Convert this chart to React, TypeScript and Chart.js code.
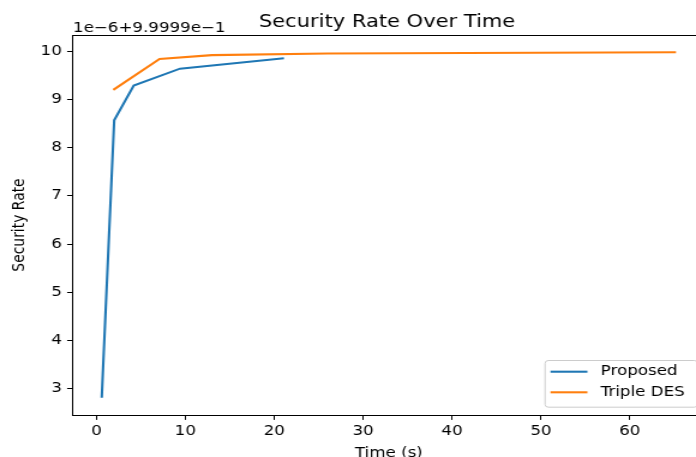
import React, { useEffect, useRef } from 'react';
import { Chart, registerables } from 'chart.js';

Chart.register(...registerables);

const TITLE = 'Security Rate Over Time';
const X_LABEL = 'Time (s)';
const Y_LABEL = 'Security Rate';
const OFFSET_TEXT = '1e\u22126+9.9999e\u22121';
const Y_OFFSET = 0.99999;
const Y_UNIT = 1e-6;

const proposedLabel = 'Proposed';
const proposedTime = [0.6, 2.0, 4.2, 9.4, 21.1];
const proposedRate = [0.99999281, 0.99999857, 0.99999929, 0.99999964, 0.999999855];

const tripleDesLabel = 'Triple DES';
const tripleDesTime = [1.9, 7.1, 13.0, 26.0, 65.2];
const tripleDesRate = [0.9999992, 0.99999984, 0.99999992, 0.999999955, 0.99999998];

const xTicks = [0, 10, 20, 30, 40, 50, 60];
const yTickUnits = [3, 4, 5, 6, 7, 8, 9, 10];

const BLUE = '#1f77b4';
const ORANGE = '#ff7f0e';
const FONT = '"DejaVu Sans", sans-serif';
const FS = 13.9;

const STRETCH = 1.2;

const decorPlugin = {
  id: 'decor',
  afterDraw(chart: any) {
    const { ctx, chartArea: ca } = chart;
    ctx.save();
    // top & right spines
    ctx.strokeStyle = '#000';
    ctx.lineWidth = 1;
    ctx.beginPath();
    ctx.moveTo(ca.left, Math.round(ca.top) + 0.5);
    ctx.lineTo(ca.right, Math.round(ca.top) + 0.5);
    ctx.lineTo(ca.right, ca.bottom);
    ctx.stroke();

    // title
    ctx.fillStyle = '#000';
    ctx.font = `17.5px ${FONT}`;
    ctx.textAlign = 'center';
    ctx.textBaseline = 'alphabetic';
    ctx.fillText(TITLE, (ca.left + ca.right) / 2 - 1.5, 26.7);

    // offset text
    ctx.font = `${FS}px ${FONT}`;
    ctx.textAlign = 'left';
    ctx.fillText(OFFSET_TEXT, ca.left, 31.7);

    // legend
    const items = chart.data.datasets.map((d: any) => ({ label: d.label, color: d.borderColor }));
    ctx.font = `${FS}px ${FONT}`;
    const maxW = Math.max(...items.map((it: any) => ctx.measureText(it.label).width));
    const handle = 30.8;
    const padL = 5;
    const gap = 11.1;
    const padR = 10.2;
    const boxW = padL + handle + gap + maxW + padR;
    const boxH = 46.7;
    const right = ca.right - 6.5;
    const bottom = ca.bottom - 8.3;
    const left = right - boxW;
    const top = bottom - boxH;
    ctx.beginPath();
    (ctx as any).roundRect(left + 0.5, top + 0.5, boxW, boxH, 2.8);
    ctx.fillStyle = 'rgba(255,255,255,0.8)';
    ctx.fill();
    ctx.strokeStyle = '#cccccc';
    ctx.lineWidth = 1;
    ctx.stroke();
    const rows = [11.7, 32.3];
    items.forEach((it: any, i: number) => {
      const y = top + rows[i];
      ctx.strokeStyle = it.color;
      ctx.lineWidth = 2.08;
      ctx.beginPath();
      ctx.moveTo(left + padL, y);
      ctx.lineTo(left + padL + handle, y);
      ctx.stroke();
      ctx.fillStyle = '#000';
      ctx.textAlign = 'left';
      ctx.textBaseline = 'middle';
      ctx.fillText(it.label, left + padL + handle + gap, y);
    });
    ctx.restore();
  },
};

export default function App() {
  const canvasRef = useRef<HTMLCanvasElement | null>(null);

  useEffect(() => {
    const canvas = canvasRef.current;
    if (!canvas) return;

    const allX = [...proposedTime, ...tripleDesTime];
    const allY = [...proposedRate, ...tripleDesRate];
    const xMin = Math.min(...allX);
    const xMax = Math.max(...allX);
    const yMin = Math.min(...allY);
    const yMax = Math.max(...allY);
    const xPad = 0.05 * (xMax - xMin);
    const yPad = 0.05 * (yMax - yMin);

    Chart.defaults.font.family = FONT;

    const chart = new Chart(canvas, {
      type: 'line',
      data: {
        datasets: [
          {
            label: proposedLabel,
            data: proposedTime.map((t, i) => ({ x: t, y: proposedRate[i] })),
            borderColor: BLUE,
            backgroundColor: BLUE,
            borderWidth: 2.08,
            pointRadius: 0,
            tension: 0,
            fill: false,
          },
          {
            label: tripleDesLabel,
            data: tripleDesTime.map((t, i) => ({ x: t, y: tripleDesRate[i] })),
            borderColor: ORANGE,
            backgroundColor: ORANGE,
            borderWidth: 2.08,
            pointRadius: 0,
            tension: 0,
            fill: false,
          },
        ],
      },
      options: {
        responsive: false,
        animation: false,
        events: [],
        layout: { padding: { left: 0, top: 35, right: 600 - 587.25, bottom: 0 } },
        plugins: {
          legend: { display: false },
          title: { display: false },
          tooltip: { enabled: false },
        },
        scales: {
          x: {
            type: 'linear',
            min: xMin - xPad,
            max: xMax + xPad,
            afterBuildTicks: (s: any) => {
              s.ticks = xTicks.map((v) => ({ value: v }));
            },
            afterFit: (s: any) => {
              s.height = 55;
            },
            ticks: {
              color: '#000',
              font: { size: FS },
              padding: 3.5,
              maxRotation: 0,
              autoSkip: false,
              callback: (v: any) => String(v),
            },
            grid: {
              drawOnChartArea: false,
              drawTicks: true,
              tickLength: 4.9,
              tickColor: '#000',
              tickWidth: 1,
            },
            border: { display: true, color: '#000', width: 1 },
            title: {
              display: true,
              text: X_LABEL,
              color: '#000',
              font: { size: FS },
              padding: { top: 0, bottom: 8.3 },
            },
          },
          y: {
            type: 'linear',
            min: yMin - yPad,
            max: yMax + yPad,
            afterBuildTicks: (s: any) => {
              s.ticks = yTickUnits.map((k) => ({ value: Y_OFFSET + k * Y_UNIT }));
            },
            afterFit: (s: any) => {
              s.width = 60.83;
            },
            ticks: {
              color: '#000',
              font: { size: FS },
              padding: 4.4,
              autoSkip: false,
              callback: (v: any) => String(Math.round((Number(v) - Y_OFFSET) / Y_UNIT)),
            },
            grid: {
              drawOnChartArea: false,
              drawTicks: true,
              tickLength: 4.9,
              tickColor: '#000',
              tickWidth: 1,
            },
            border: { display: true, color: '#000', width: 1 },
            title: {
              display: true,
              text: Y_LABEL,
              color: '#000',
              font: { size: FS },
              padding: { top: 8.4, bottom: 0 },
            },
          },
        },
      },
      plugins: [decorPlugin],
    } as any);

    return () => {
      chart.destroy();
    };
  }, []);

  return (
    <div
      style={{
        position: 'fixed',
        left: 0,
        top: 0,
        width: 696,
        height: 457,
        overflow: 'hidden',
        background: '#fff',
      }}
    >
      <div
        style={{
          width: 600,
          height: 470,
          transform: `scaleX(${STRETCH})`,
          transformOrigin: '0 0',
        }}
      >
        <canvas ref={canvasRef} width={600} height={470} />
      </div>
    </div>
  );
}
